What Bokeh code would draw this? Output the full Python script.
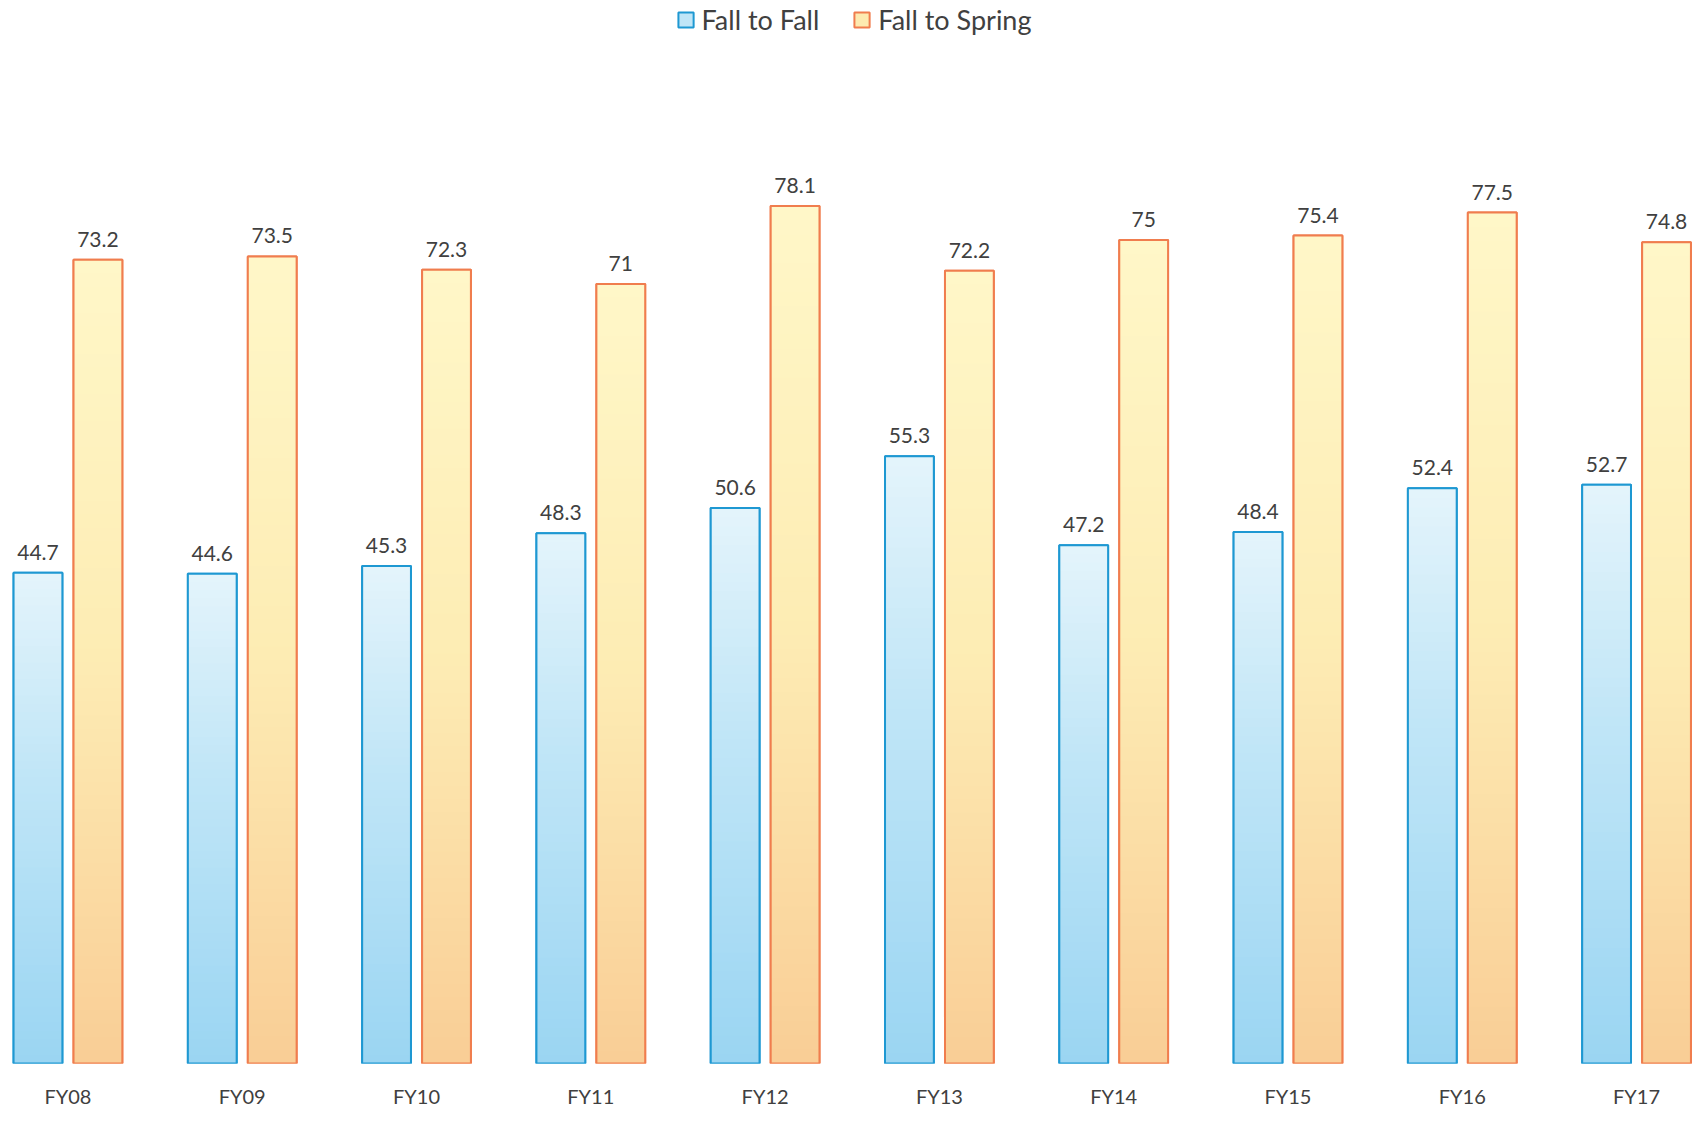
from bokeh.plotting import figure
from bokeh.models import ColumnDataSource, Range1d, FixedTicker, Legend, LegendItem
from bokeh.embed import file_html
from bokeh.resources import INLINE
from bokeh.core.properties import value

# Retention rates by fiscal year
years = ["FY08", "FY09", "FY10", "FY11", "FY12", "FY13", "FY14", "FY15", "FY16", "FY17"]
fall_to_fall = [44.7, 44.6, 45.3, 48.3, 50.6, 55.3, 47.2, 48.4, 52.4, 52.7]
fall_to_spring = [73.2, 73.5, 72.3, 71.0, 78.1, 72.2, 75.0, 75.4, 77.5, 74.8]

FONT = "Lato"
TEXT_COLOR = "#404040"
BAR_W = 0.28
OFFSET = 0.172
N_BANDS = 60

W, H = 1707, 1122
BASE_PX = 1063          # pixel row of the zero line
PX_PER_UNIT = 10.98


def hex_to_rgb(h):
    h = h.lstrip("#")
    return tuple(int(h[i:i + 2], 16) for i in (0, 2, 4))


def lerp_stops(stops, t):
    # stops: list of (position, hex) with t=0 at bar bottom, t=1 at bar top
    for (p0, c0), (p1, c1) in zip(stops[:-1], stops[1:]):
        if p0 <= t <= p1:
            f = (t - p0) / (p1 - p0) if p1 > p0 else 0
            a, b = hex_to_rgb(c0), hex_to_rgb(c1)
            return "#%02x%02x%02x" % tuple(round(a[i] + (b[i] - a[i]) * f) for i in range(3))
    return stops[-1][1]


def gradient_source(xs, vals, stops):
    data = dict(x=[], bottom=[], top=[], color=[])
    for x, v in zip(xs, vals):
        for k in range(N_BANDS):
            data["x"].append(x)
            data["bottom"].append(v * k / N_BANDS)
            data["top"].append(v * (k + 1) / N_BANDS + (0.1 if k < N_BANDS - 1 else 0))
            data["color"].append(lerp_stops(stops, (k + 0.5) / N_BANDS))
    return ColumnDataSource(data)


idx = list(range(len(years)))
x_left = [i - OFFSET for i in idx]
x_right = [i + OFFSET for i in idx]

blue_stops = [(0.0, "#9ad5f2"), (0.6, "#c1e6f7"), (1.0, "#e4f4fb")]
orange_stops = [(0.0, "#f9cd96"), (0.5, "#fdecb3"), (1.0, "#fff7c8")]
blue_line = "#1e98d2"
orange_line = "#f07d4e"

y_end = BASE_PX / PX_PER_UNIT

p = figure(width=W, height=H, output_backend="svg", toolbar_location=None,
           x_range=Range1d(-0.387, 9.407), y_range=Range1d(0, y_end),
           min_border_left=0, min_border_right=0, min_border_top=0,
           min_border_bottom=H - BASE_PX)
p.outline_line_color = None
p.background_fill_color = "white"
p.border_fill_color = "white"
p.xgrid.visible = False
p.ygrid.visible = False
p.yaxis.visible = False

src_ff = ColumnDataSource(dict(x=x_left, top=fall_to_fall,
                               label=[f"{v:g}" for v in fall_to_fall]))
src_fs = ColumnDataSource(dict(x=x_right, top=fall_to_spring,
                               label=[f"{v:g}" for v in fall_to_spring]))

# base bars (their flat fill also serves as the legend swatch)
r_ff = p.vbar(x="x", top="top", bottom=0, width=BAR_W, source=src_ff,
              fill_color="#bfe5f7", line_color=blue_line, line_width=2)
r_fs = p.vbar(x="x", top="top", bottom=0, width=BAR_W, source=src_fs,
              fill_color="#fdeab0", line_color=orange_line, line_width=2)

# gradient fill, built as thin stacked bands
for xs, vals, stops in ((x_left, fall_to_fall, blue_stops),
                        (x_right, fall_to_spring, orange_stops)):
    src = gradient_source(xs, vals, stops)
    p.vbar(x="x", bottom="bottom", top="top", width=BAR_W, source=src,
           fill_color="color", line_color=None)

# bar outlines on top of the gradient
p.vbar(x="x", top="top", bottom=0, width=BAR_W, source=src_ff,
       fill_color=None, line_color=blue_line, line_width=2)
p.vbar(x="x", top="top", bottom=0, width=BAR_W, source=src_fs,
       fill_color=None, line_color=orange_line, line_width=2)

# value labels
for src in (src_ff, src_fs):
    p.text(x="x", y="top", text="label", source=src, text_align="center",
           text_baseline="bottom", y_offset=-13, text_font=value(FONT),
           text_font_size="21px", text_color=TEXT_COLOR)

# x axis with category labels
ax = p.xaxis[0]
ax.ticker = FixedTicker(ticks=idx)
ax.major_label_overrides = {i: y for i, y in zip(idx, years)}
ax.axis_line_color = None
ax.major_tick_line_color = None
ax.minor_tick_line_color = None
ax.major_label_standoff = 14
ax.major_label_text_font = FONT
ax.major_label_text_font_size = "20px"
ax.major_label_text_color = TEXT_COLOR

legend = Legend(items=[LegendItem(label="Fall to Fall", renderers=[r_ff]),
                       LegendItem(label="Fall to Spring", renderers=[r_fs])],
                location="top_center", orientation="horizontal",
                label_text_font=FONT, label_text_font_size="27px",
                label_text_color=TEXT_COLOR, glyph_width=19, glyph_height=19,
                label_standoff=7, spacing=33, padding=6, margin=3,
                border_line_color=None, background_fill_alpha=0)
p.add_layout(legend, "center")

open("out.html", "w").write(file_html(p, INLINE))
